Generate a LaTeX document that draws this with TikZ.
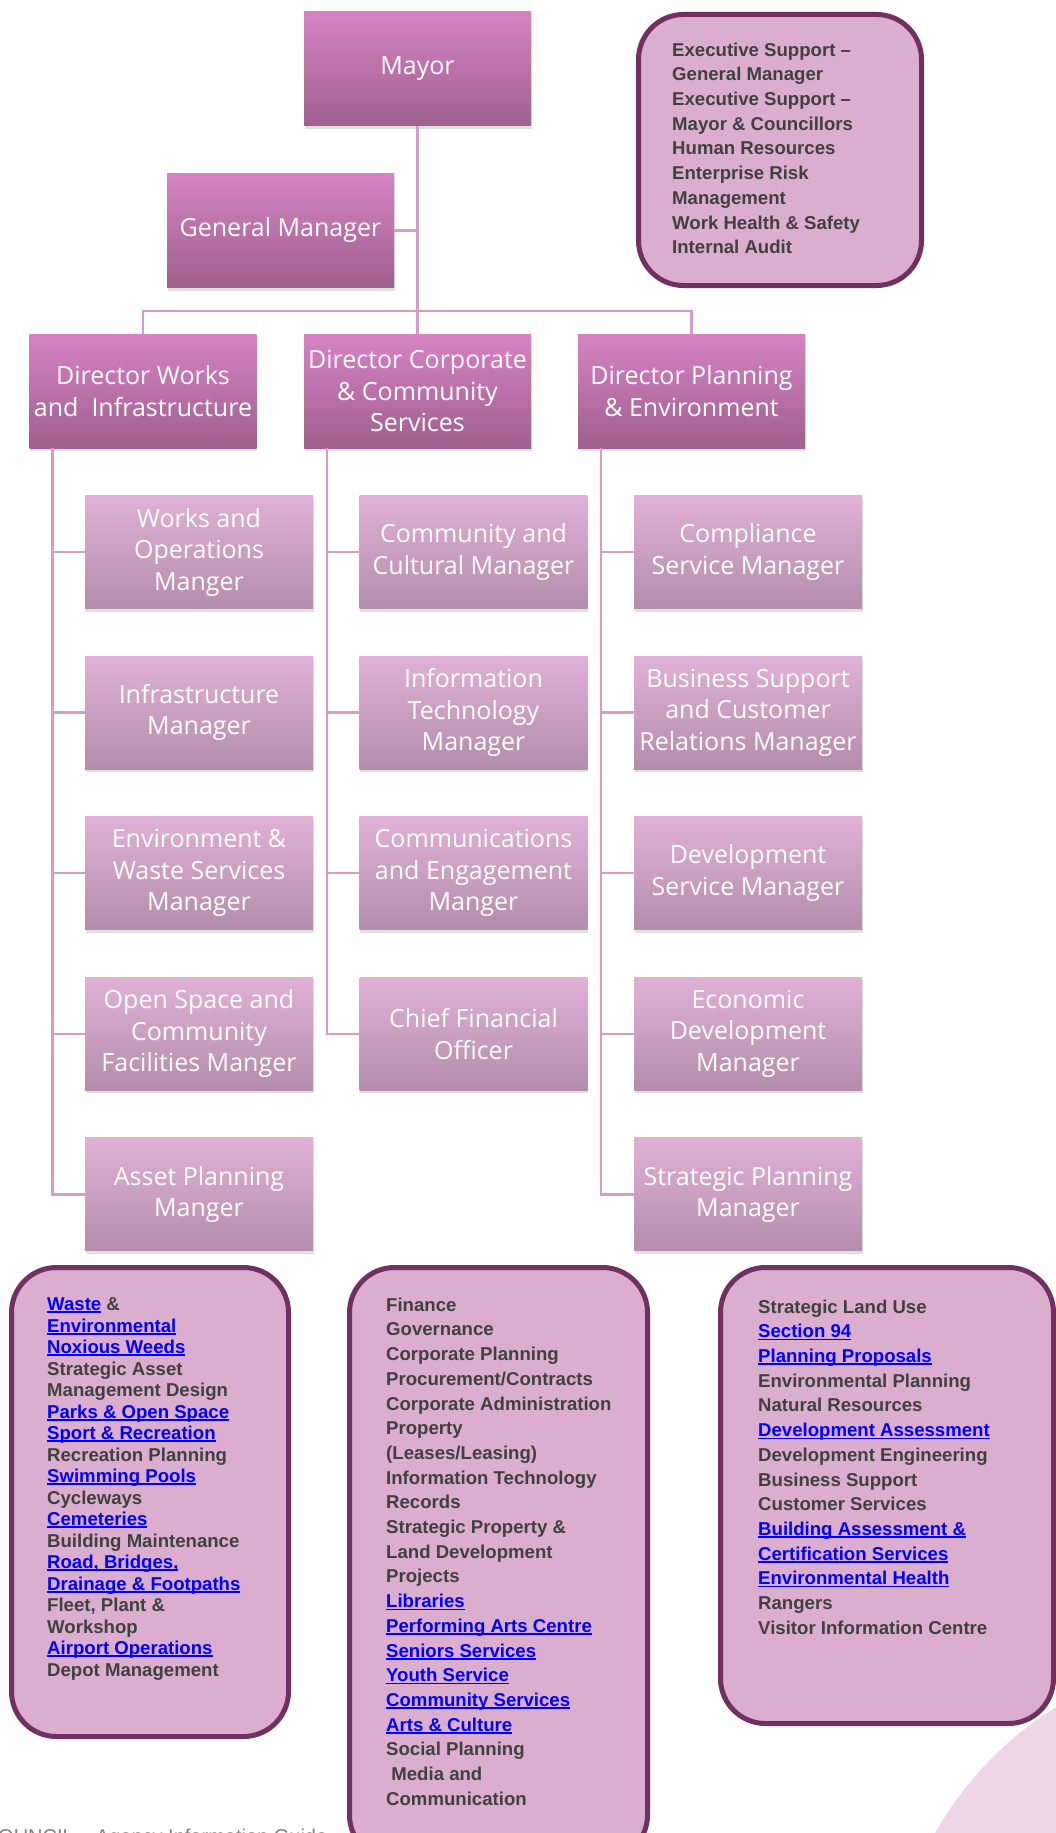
\documentclass[tikz,border=0pt]{standalone}
\usepackage{fontspec}
\setmainfont{Open Sans}
\newfontfamily\listfont{Liberation Sans}
\usetikzlibrary{shadows}

\definecolor{linecol}{RGB}{214,156,200}
\definecolor{deeptop}{RGB}{214,131,196}
\definecolor{deepbot}{RGB}{158,96,141}
\definecolor{paletop}{RGB}{224,177,214}
\definecolor{palebot}{RGB}{180,141,171}
\definecolor{panelfill}{RGB}{219,173,207}
\definecolor{paneldraw}{RGB}{112,48,96}
\definecolor{listgray}{RGB}{64,64,64}
\definecolor{linkblue}{RGB}{0,0,255}
\definecolor{blobpink}{RGB}{236,214,232}

% underlined blue entries
\newcommand{\weblink}[1]{\textcolor{linkblue}{\setbox0\hbox{#1}\rlap{\rule[-2.6pt]{\wd0}{1.7pt}}\box0}}

\tikzset{
    boss/.style={rectangle, minimum width=227, minimum height=114, inner xsep=2pt,
        top color=deeptop, bottom color=deepbot, text=white, align=center,
        font=\fontsize{25}{31.5}\selectfont,
        drop shadow={shadow xshift=0.5pt, shadow yshift=-3pt, opacity=0.12, fill=black}},
    staff/.style={boss, minimum width=228, minimum height=113,
        top color=paletop, bottom color=palebot},
    panel/.style={draw=paneldraw, line width=5pt, fill=panelfill, rounded corners=45pt},
    listtext/.style={anchor=north west, inner sep=0pt, align=left, text=listgray,
        font=\listfont\bfseries\fontsize{18.6}{24.7}\selectfont},
    listtight/.style={listtext, font=\listfont\bfseries\fontsize{18.6}{21.5}\selectfont},
    orgline/.style={draw=linecol, line width=2.4pt}
}

\begin{document}
\begin{tikzpicture}[x=1pt, y=-1pt]

    % --- Page ---
    \useasboundingbox (0,0) rectangle (1056,1833);
    \clip (0,0) rectangle (1056,1833);

    % --- Dimensions ---
    \def\RowTop{552}
    \def\RowGap{160.6}
    \def\TrunkIn{23}

    % --- Background blob ---
    \fill[blobpink] (1240,2005) circle (350pt);

    % --- Top level ---
    \node[boss] (mayor) at (417.5,69) {Mayor};
    \node[boss] (gm) at (280.5,230.5) {General Manager};

    % --- Directors ---
    \node[boss] (works) at (143,391) {Director Works\\and\ \ Infrastructure};
    \node[boss] (corp) at (417.5,391) {Director Corporate\\\& Community\\Services};
    \node[boss] (plan) at (691.5,391) {Director Planning\\\& Environment};

    % --- Managers ---
    \foreach \lbl [count=\i] in {{Works and\\Operations\\Manger}, {Infrastructure\\Manager},
        {Environment \&\\Waste Services\\Manager}, {Open Space and\\Community\\Facilities Manger},
        {Asset Planning\\Manger}}
        \node[staff] (w\i) at (199, {\RowTop+\RowGap*(\i-1)}) {\lbl};

    \foreach \lbl [count=\i] in {{Community and\\Cultural Manager}, {Information\\Technology\\Manager},
        {Communications\\and Engagement\\Manger}, {Chief Financial\\Officer}}
        \node[staff] (c\i) at (473.5, {\RowTop+\RowGap*(\i-1)}) {\lbl};

    \foreach \lbl [count=\i] in {{Compliance\\Service Manager}, {Business Support\\and Customer\\Relations Manager},
        {Development\\Service Manager}, {Economic\\Development\\Manager}, {Strategic Planning\\Manager}}
        \node[staff] (p\i) at (748, {\RowTop+\RowGap*(\i-1)}) {\lbl};

    % --- Connectors ---
    \coordinate (bus) at (417.5,311);
    \draw[orgline] (mayor.south) -- (corp.north);
    \draw[orgline] (works.north) |- (bus) -| (plan.north);
    \draw[orgline] (gm.east) -- (gm.east -| mayor.south);

    \coordinate (wtrunk) at ([xshift=\TrunkIn pt]works.south west);
    \coordinate (ctrunk) at ([xshift=\TrunkIn pt]corp.south west);
    \coordinate (ptrunk) at ([xshift=\TrunkIn pt]plan.south west);
    \foreach \i in {1,...,5} \draw[orgline] (wtrunk) |- (w\i.west);
    \foreach \i in {1,...,4} \draw[orgline] (ctrunk) |- (c\i.west);
    \foreach \i in {1,...,5} \draw[orgline] (ptrunk) |- (p\i.west);

    % --- Executive panel ---
    \draw[panel] (638.5,14.5) rectangle (921.5,285.5);
    \node[listtext] (exectext) at (672,42.5) {Executive Support –\\General Manager\\Executive Support –\\Mayor \& Councillors\\Human Resources\\Enterprise Risk\\Management\\Work Health \& Safety\\Internal Audit};

    % --- Function panels ---
    \draw[panel] (11.5,1267.5) rectangle (288.5,1736.5);
    \draw[panel] (349.5,1267.5) rectangle (647.5,1860);
    \draw[panel] (720.5,1267.5) rectangle (1053.5,1723.5);

    \node[listtight] (workslist) at (47,1297.5) {\weblink{Waste} \&\\\weblink{Environmental}\\\weblink{Noxious Weeds}\\Strategic Asset\\Management Design\\\weblink{Parks \& Open Space}\\\weblink{Sport \& Recreation}\\Recreation Planning\\\weblink{Swimming Pools}\\Cycleways\\\weblink{Cemeteries}\\Building Maintenance\\\weblink{Road, Bridges,}\\\weblink{Drainage \& Footpaths}\\Fleet, Plant \&\\Workshop\\\weblink{Airport Operations}\\Depot Management};

    \node[listtext] (corplist) at (386,1297.5) {Finance\\Governance\\Corporate Planning\\Procurement/Contracts\\Corporate Administration\\Property\\(Leases/Leasing)\\Information Technology\\Records\\Strategic Property \&\\Land Development\\Projects\\\weblink{Libraries}\\\weblink{Performing Arts Centre}\\\weblink{Seniors Services}\\\weblink{Youth Service}\\\weblink{Community Services}\\\weblink{Arts \& Culture}\\Social Planning\\\hspace{0.28em}Media and\\Communication};

    \node[listtext] (planlist) at (758,1299.5) {Strategic Land Use\\\weblink{Section 94}\\\weblink{Planning Proposals}\\Environmental Planning\\Natural Resources\\\weblink{Development Assessment}\\Development Engineering\\Business Support\\Customer Services\\\weblink{Building Assessment \&}\\\weblink{Certification Services}\\\weblink{Environmental Health}\\Rangers\\Visitor Information Centre};

    % --- Footer (cut off) ---
    \node[anchor=north west, inner sep=0pt, text=gray, font=\listfont\fontsize{20}{24}\selectfont] (footer) at (-2,1829) {OUNCIL – Agency Information Guide};

\end{tikzpicture}
\end{document}
